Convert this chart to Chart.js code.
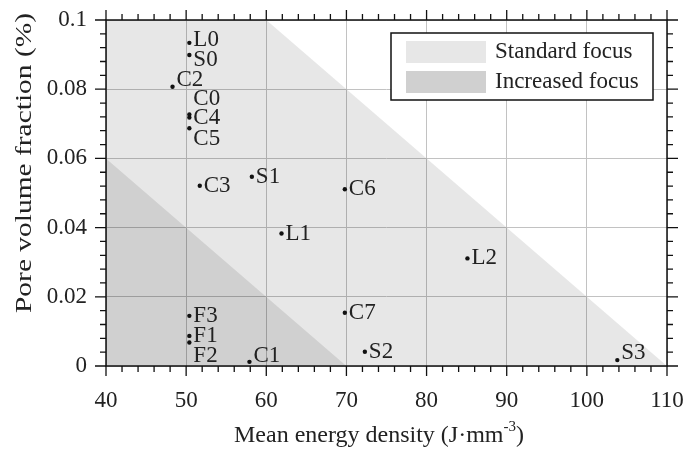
<!DOCTYPE html>
<html>
<head>
<meta charset="utf-8">
<script src="https://cdn.jsdelivr.net/npm/chart.js@4"></script>
<style>
  html, body { margin: 0; padding: 0; background: #fff; }
  #wrap { width: 686px; height: 452px; }
</style>
</head>
<body>
<div id="wrap"><canvas id="poreChart"></canvas></div>
<script>
// Samples: energy density vs pore fraction
const sampleNames   = ['L0', 'S0', 'C2', 'C0', 'C4', 'C5', 'C3', 'S1', 'C6', 'L1', 'L2', 'C7', 'S2', 'S3', 'F3', 'F1', 'F2', 'C1'];
const energyDensity = [50.4, 50.4, 48.3, 50.4, 50.4, 50.4, 51.7, 58.2, 69.8, 61.9, 85.1, 69.8, 72.3, 103.8, 50.4, 50.4, 50.4, 57.9];
const poreFraction  = [0.0934, 0.0899, 0.0807, 0.0727, 0.0718, 0.0687, 0.0521, 0.0547, 0.0511, 0.0383, 0.0311, 0.0154, 0.0041, 0.0017, 0.0145, 0.0087, 0.0068, 0.0012];

// Shaded process windows (upper edge, filled down to zero)
const regionNames = ['Standard focus', 'Increased focus'];
const standardX = [40, 60, 110];
const standardY = [0.1, 0.1, 0];
const increasedX = [40, 70];
const increasedY = [0.06, 0];

const xTickLabels = ['40', '50', '60', '70', '80', '90', '100', '110'];
const yTickLabels = ['0', '0.02', '0.04', '0.06', '0.08', '0.1'];

const serif = "'Liberation Serif', 'Times New Roman', serif";
const ink = '#222';

// vertical nudges for labels that sit off their dot
const labelShift = { L0: -3, S0: 5, C2: -7, C0: -16, C5: 11, F2: 13, C1: -6, S3: -7 };

const toPoints = (xs, ys) => xs.map((x, i) => ({ x: x, y: ys[i] }));

const pointLabels = {
    id: 'pointLabels',
    afterDatasetsDraw(chart) {
        const ctx = chart.ctx;
        const meta = chart.getDatasetMeta(0);
        ctx.save();
        ctx.font = '23px ' + serif;
        ctx.fillStyle = ink;
        ctx.textAlign = 'left';
        ctx.textBaseline = 'middle';
        meta.data.forEach((pt, i) => {
            const name = sampleNames[i];
            ctx.fillText(name, pt.x + 4, pt.y + (labelShift[name] || 0));
        });
        ctx.restore();
    }
};

const frame = {
    id: 'frame',
    afterDraw(chart) {
        const ctx = chart.ctx;
        const a = chart.chartArea;
        const xs = chart.scales.x, ys = chart.scales.y;
        ctx.save();
        ctx.strokeStyle = '#111';
        ctx.lineWidth = 1.5;
        ctx.strokeRect(a.left, a.top, a.right - a.left, a.bottom - a.top);

        ctx.lineWidth = 1.3;
        ctx.beginPath();
        for (let v = 40; v <= 110.001; v += 2) {
            const px = xs.getPixelForValue(v);
            const len = Math.abs(v % 10) < 0.01 ? 10 : 6;
            ctx.moveTo(px, a.bottom); ctx.lineTo(px, a.bottom + len);
            ctx.moveTo(px, a.top); ctx.lineTo(px, a.top - len);
        }
        for (let k = 0; k <= 25; k++) {
            const py = ys.getPixelForValue(k * 0.004);
            const len = k % 5 === 0 ? 11 : 6;
            ctx.moveTo(a.left, py); ctx.lineTo(a.left - len, py);
            ctx.moveTo(a.right, py); ctx.lineTo(a.right + len, py);
        }
        ctx.stroke();

        // legend
        const lx = 391, ly = 33, lw = 262, lh = 67;
        ctx.fillStyle = '#fff';
        ctx.fillRect(lx, ly, lw, lh);
        ctx.strokeStyle = '#111';
        ctx.lineWidth = 1.5;
        ctx.strokeRect(lx, ly, lw, lh);
        const swatch = ['#e7e7e7', '#d0d0d0'];
        ctx.font = '23px ' + serif;
        ctx.textAlign = 'left';
        ctx.textBaseline = 'middle';
        regionNames.forEach((name, i) => {
            const y = ly + 8 + i * 30;
            ctx.fillStyle = swatch[i];
            ctx.fillRect(lx + 15, y, 80, 22);
            ctx.fillStyle = ink;
            ctx.fillText(name, lx + 104, y + 11);
        });

        // axis titles
        ctx.fillStyle = ink;
        ctx.textBaseline = 'alphabetic';
        const main = 'Mean energy density (J\u00b7mm';
        ctx.font = '24px ' + serif;
        const wMain = ctx.measureText(main).width;
        ctx.font = '15px ' + serif;
        const wSup = ctx.measureText('-3').width;
        ctx.font = '24px ' + serif;
        const wEnd = ctx.measureText(')').width;
        let tx = 379 - (wMain + wSup + wEnd) / 2;
        ctx.textAlign = 'left';
        ctx.fillText(main, tx, 442);
        tx += wMain;
        ctx.font = '15px ' + serif;
        ctx.fillText('-3', tx, 431);
        tx += wSup;
        ctx.font = '24px ' + serif;
        ctx.fillText(')', tx, 442);

        ctx.translate(31, 163);
        ctx.rotate(-Math.PI / 2);
        ctx.scale(1.28, 1);
        ctx.textAlign = 'center';
        ctx.font = '23px ' + serif;
        ctx.fillText('Pore volume fraction (%)', 0, 0);
        ctx.restore();
    }
};

document.addEventListener('DOMContentLoaded', function () {
    const ctx = document.getElementById('poreChart').getContext('2d');
    new Chart(ctx, {
        type: 'scatter',
        data: {
            datasets: [{
                label: 'Samples',
                data: toPoints(energyDensity, poreFraction),
                backgroundColor: '#111',
                borderWidth: 0,
                pointRadius: 2.2
            }, {
                label: regionNames[1],
                data: toPoints(increasedX, increasedY),
                showLine: true,
                fill: 'origin',
                backgroundColor: 'rgba(0,0,0,0.10)',
                borderWidth: 0,
                pointRadius: 0
            }, {
                label: regionNames[0],
                data: toPoints(standardX, standardY),
                showLine: true,
                fill: 'origin',
                backgroundColor: 'rgba(0,0,0,0.095)',
                borderWidth: 0,
                pointRadius: 0
            }]
        },
        options: {
            responsive: true,
            maintainAspectRatio: false,
            animation: false,
            layout: { padding: { top: 20, right: 19, left: 0, bottom: 0 } },
            scales: {
                x: {
                    type: 'linear',
                    min: 40, max: 110,
                    afterFit: s => { s.height = 86; s.paddingLeft = 0; s.paddingRight = 0; },
                    border: { display: false },
                    grid: { color: '#c2c2c2', lineWidth: 1, drawTicks: false },
                    ticks: {
                        stepSize: 10,
                        padding: 21,
                        color: ink,
                        font: { family: serif, size: 23 },
                        callback: (v, i) => xTickLabels[i]
                    }
                },
                y: {
                    min: 0, max: 0.1,
                    afterFit: s => { s.width = 106; s.paddingTop = 0; s.paddingBottom = 0; },
                    border: { display: false },
                    grid: { color: '#c2c2c2', lineWidth: 1, drawTicks: false },
                    ticks: {
                        stepSize: 0.02,
                        padding: 19,
                        color: ink,
                        font: { family: serif, size: 23 },
                        callback: (v, i) => yTickLabels[i]
                    }
                }
            },
            plugins: {
                legend: { display: false },
                tooltip: { enabled: false }
            }
        },
        plugins: [pointLabels, frame]
    });
});
</script>
</body>
</html>
